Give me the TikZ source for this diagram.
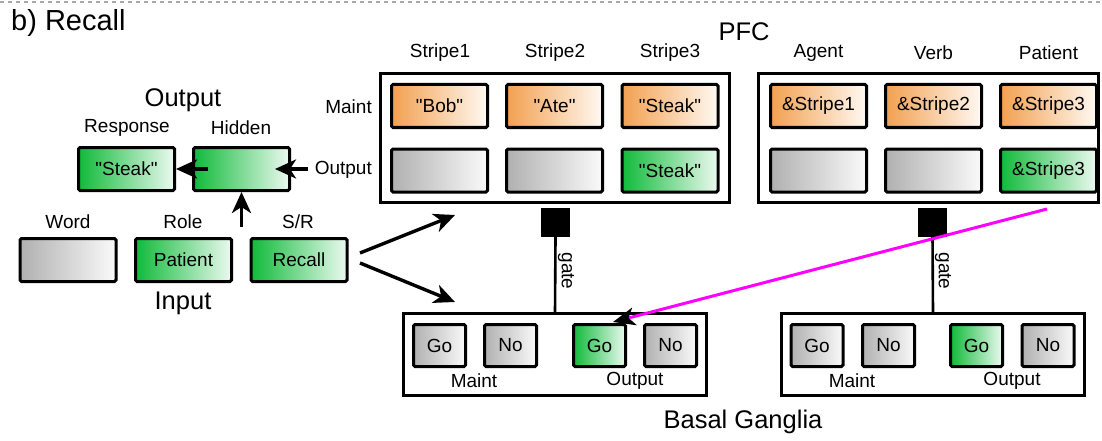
\documentclass[tikz,border=0pt]{standalone}
\usepackage{fontspec}
\setmainfont{Liberation Sans}[Ligatures=TeXOff]
\usetikzlibrary{arrows.meta}
\definecolor{gdark}{RGB}{16,186,58}
\definecolor{glight}{RGB}{236,250,240}
\definecolor{odark}{RGB}{242,160,80}
\definecolor{olight}{RGB}{255,249,242}
\definecolor{ndark}{RGB}{176,176,176}
\definecolor{nlight}{RGB}{250,250,250}
\definecolor{dashgrey}{RGB}{170,170,170}
\definecolor{wire}{RGB}{255,0,255}
\newcommand\smallf{\fontsize{19}{22}\selectfont}
\newcommand\bigf{\fontsize{25.5}{30}\selectfont}
\newcommand\titlef{\fontsize{29}{34}\selectfont}
% straight double quote
\newcommand\sq{\symbol{34}}
\tikzset{
  unit/.style={draw, line width=3pt, rounded corners=1.5pt, inner sep=0pt,
    minimum width=96pt, minimum height=43pt, font=\smallf},
  gunit/.style={unit, left color=gdark, right color=glight},
  ounit/.style={unit, left color=odark, right color=olight},
  nunit/.style={unit, left color=ndark, right color=nlight},
  bgunit/.style={minimum width=52pt, minimum height=42pt},
  frame/.style={draw, line width=2.6pt, inner sep=0pt},
  lbl/.style={font=\smallf, inner sep=0pt},
  biglbl/.style={font=\bigf, inner sep=0pt},
  gatebox/.style={fill=black, minimum width=29pt, minimum height=29pt, inner sep=0pt},
  gateline/.style={line width=2.6pt},
  arr/.style={line width=3.4pt, -{Stealth[length=21pt, width=19pt, inset=6pt]}},
  toparr/.style={line width=3pt, wire, -{Stealth[length=22pt, width=18pt, inset=6pt, black]}}
}
\begin{document}
\begin{tikzpicture}[x=1pt, y=-1pt]
\useasboundingbox (0,0) rectangle (1102,441);

% dashed separator along the top
\draw[dashgrey, line width=1.4pt, dash pattern=on 4pt off 4pt] (0,2) -- (1102,2);

\node[font=\titlef, inner sep=0pt, anchor=west] (title) at (11,23) {b) Recall};

% ---------- PFC ----------
\node[font=\bigf, inner sep=0pt] (pfc) at (744,32) {PFC};
\node[frame, minimum width=349pt, minimum height=129pt] (pfcL) at (555,138) {};
\node[frame, minimum width=340pt, minimum height=129pt] (pfcR) at (928.5,138) {};

\node[lbl] (s1) at (440,53) {Stripe1};
\node[lbl] (s2) at (555,53) {Stripe2};
\node[lbl] (s3) at (670,53) {Stripe3};
\node[lbl] (agent) at (818.5,53) {Agent};
\node[lbl] (verb) at (933.5,53) {Verb};
\node[lbl] (pat) at (1048.5,53) {Patient};

\node[lbl, anchor=east] (rmaint) at (372,107) {Maint};
\node[lbl, anchor=east] (rout) at (372,170) {Output};

\node[ounit] (m1) at (439.5,106) {\sq Bob\sq};
\node[ounit] (m2) at (554.5,106) {\sq Ate\sq};
\node[ounit] (m3) at (670,106) {\sq Steak\sq};
\node[nunit] (o1) at (439.5,170.5) {};
\node[nunit] (o2) at (554.5,170.5) {};
\node[gunit] (o3) at (670,170.5) {\sq Steak\sq};

\node[ounit] (rm1) at (818.5,106) {\&Stripe1};
\node[ounit] (rm2) at (933.5,106) {\&Stripe2};
\node[ounit] (rm3) at (1048.5,106) {\&Stripe3};
\node[nunit] (ro1) at (818.5,170.5) {};
\node[nunit] (ro2) at (933.5,170.5) {};
\node[gunit] (ro3) at (1048.5,170.5) {\&Stripe3};

% ---------- gates ----------
\node[gatebox] (gL) at (555.5,222.5) {};
\node[gatebox] (gR) at (932.5,222.5) {};

% ---------- Basal Ganglia ----------
\node[frame, minimum width=303pt, minimum height=82pt] (bgL) at (555,354.5) {};
\node[frame, minimum width=303pt, minimum height=82pt] (bgR) at (933,354.5) {};

\node[nunit, bgunit] (goL1) at (439.5,345.5) {Go};
\node[nunit, bgunit] (noL1) at (510.5,345.5) {No};
\node[gunit, bgunit] (goL2) at (599.5,345.5) {Go};
\node[nunit, bgunit] (noL2) at (670.5,345.5) {No};
\node[lbl] (bmL) at (474,381) {Maint};
\node[lbl] (boL) at (635,381) {Output};

\node[nunit, bgunit] (goR1) at (817,345.5) {Go};
\node[nunit, bgunit] (noR1) at (888.5,345.5) {No};
\node[gunit, bgunit] (goR2) at (976.5,345.5) {Go};
\node[nunit, bgunit] (noR2) at (1048,345.5) {No};
\node[lbl] (bmR) at (852,381) {Maint};
\node[lbl] (boR) at (1012,381) {Output};

\node[biglbl] (bg) at (743,422) {Basal Ganglia};

\draw[gateline] (gL.south) -- (bgL.north);
\draw[gateline] (gR.south) -- (bgR.north);
\node[lbl, rotate=-90] (gtL) at (566,271) {gate};
\node[lbl, rotate=-90] (gtR) at (943,271) {gate};

% ---------- input / output layers ----------
\node[biglbl] (outttl) at (183,100) {Output};
\node[lbl] (resplbl) at (127,128) {Response};
\node[lbl] (hidlbl) at (241,128) {Hidden};
\node[gunit] (resp) at (126.5,169) {\sq Steak\sq};
\node[gunit] (hid) at (241.5,169) {};

\node[lbl] (wordlbl) at (68,222) {Word};
\node[lbl] (rolelbl) at (183,222) {Role};
\node[lbl] (srlbl) at (298,222) {S/R};
\node[nunit] (word) at (68,260) {};
\node[gunit] (role) at (183.5,260) {Patient};
\node[gunit] (sr) at (299,260) {Recall};
\node[biglbl] (inttl) at (183,303) {Input};

% ---------- connectors ----------
\coordinate (outFrom) at (308,169);
\coordinate (hidIn) at (275,169);
\coordinate (hidOut) at (208,169);
\coordinate (hidUp) at (241.5,227);
\draw[arr] (outFrom) -- (hidIn);
\draw[arr] (hidOut) -- (resp.east);
\draw[arr] (hidUp) -- (hid.south);

\coordinate (srA) at (360,253);
\coordinate (srB) at (360,263);
\coordinate (toPfc) at (455,215);
\coordinate (toBg) at (455,302);
\draw[arr] (srA) -- (toPfc);
\draw[arr] (srB) -- (toBg);

\coordinate (wireStart) at (1047,209);
\coordinate (wireEnd) at (613,322);
\draw[toparr] (wireStart) -- (wireEnd);
\end{tikzpicture}
\end{document}
